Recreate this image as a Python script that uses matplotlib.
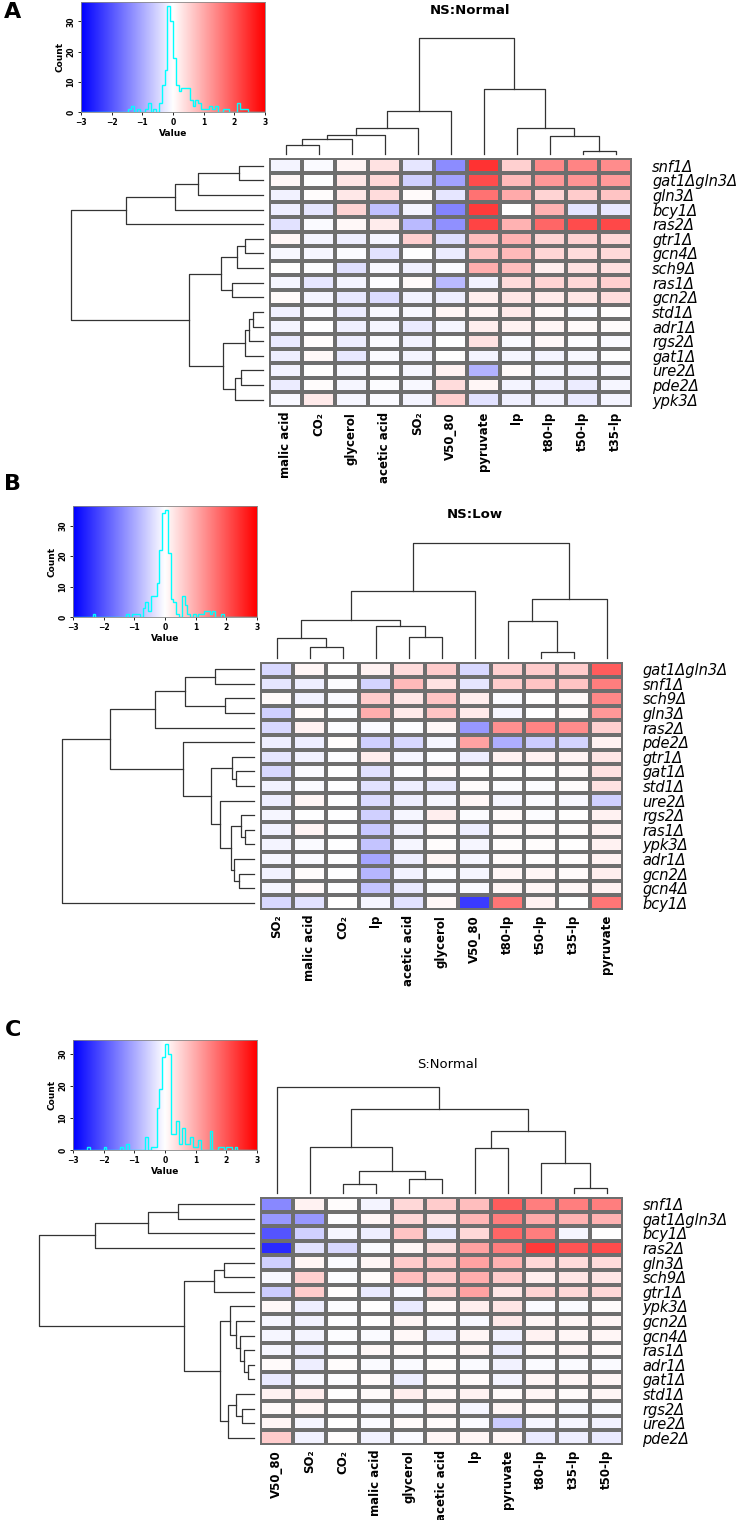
import numpy as np
import matplotlib.pyplot as plt
from matplotlib.colors import LinearSegmentedColormap
from matplotlib.ticker import MaxNLocator

plt.rcParams['font.family'] = ['DejaVu Sans']

# ---------------- panel A : NS:Normal ----------------
a_cols = ['malic acid', 'CO₂', 'glycerol', 'acetic acid', 'SO₂', 'V50_80',
          'pyruvate', 'lp', 't80-lp', 't50-lp', 't35-lp']
a_rows = ['snf1Δ', 'gat1Δgln3Δ', 'gln3Δ', 'bcy1Δ', 'ras2Δ', 'gtr1Δ', 'gcn4Δ', 'sch9Δ',
          'ras1Δ', 'gcn2Δ', 'std1Δ', 'adr1Δ', 'rgs2Δ', 'gat1Δ', 'ure2Δ', 'pde2Δ', 'ypk3Δ']
a_vals = [
    [-0.14, -0.06, 0.12, 0.35, -0.30, -1.35, 2.40, 0.55, 1.40, 1.44, 1.35],
    [0.10, -0.02, 0.30, 0.45, -0.55, -1.10, 2.10, 0.80, 1.20, 1.25, 1.18],
    [-0.16, 0.03, 0.28, 0.40, 0.05, -0.30, 1.65, 1.00, 0.50, 0.60, 0.70],
    [-0.19, -0.30, 0.50, -0.75, -0.12, -1.45, 2.30, 0.02, 0.90, -0.32, -0.26],
    [-0.33, -0.07, 0.08, 0.22, -0.80, -1.30, 2.20, 0.90, 1.80, 2.10, 2.14],
    [0.10, -0.12, -0.21, -0.13, 0.55, -0.38, 0.75, 0.90, 0.50, 0.52, 0.46],
    [-0.08, -0.11, -0.07, -0.34, -0.01, -0.22, 0.72, 0.80, 0.47, 0.42, 0.44],
    [0.02, -0.04, -0.37, -0.09, -0.17, -0.06, 0.95, 0.75, 0.20, 0.33, 0.36],
    [-0.10, -0.29, -0.13, -0.03, 0.06, -0.80, -0.15, 0.40, 0.50, 0.45, 0.54],
    [0.06, -0.14, -0.28, -0.42, -0.16, -0.19, 0.20, 0.30, 0.24, 0.30, 0.38],
    [-0.17, -0.05, -0.23, -0.08, -0.09, 0.10, 0.13, 0.25, 0.09, -0.05, 0.01],
    [-0.13, -0.02, -0.18, -0.11, -0.25, -0.10, 0.19, 0.15, 0.11, 0.06, 0.04],
    [-0.24, 0.03, -0.21, -0.05, -0.15, -0.02, 0.35, -0.07, 0.08, -0.04, -0.06],
    [-0.20, 0.08, -0.27, -0.06, -0.13, 0.00, -0.12, -0.10, -0.12, -0.08, -0.02],
    [-0.15, 0.01, -0.08, -0.03, -0.10, 0.15, -0.90, 0.05, -0.10, -0.14, -0.09],
    [-0.22, 0.03, -0.11, -0.04, -0.08, 0.40, 0.10, -0.12, -0.18, -0.22, -0.10],
    [-0.08, 0.25, -0.10, -0.05, -0.12, 0.55, -0.35, -0.17, -0.16, -0.24, -0.12],
]
# merges: (left, right, height); ids >= n refer to earlier merges
a_col_tree = [(0, 1, 9), (11, 2, 15), (12, 3, 19), (13, 4, 26), (14, 5, 43),
              (9, 10, 3), (8, 16, 18), (7, 17, 26), (6, 18, 65), (15, 19, 116)]
a_row_tree = [(0, 1, 24), (17, 2, 65), (18, 3, 88), (19, 4, 137),
              (5, 6, 18), (21, 7, 26), (8, 9, 31), (22, 23, 42),
              (10, 11, 10), (25, 12, 14), (26, 13, 18), (14, 15, 22), (28, 16, 28),
              (27, 29, 40), (24, 30, 74), (20, 31, 192)]

# ---------------- panel B : NS:Low ----------------
b_cols = ['SO₂', 'malic acid', 'CO₂', 'lp', 'acetic acid', 'glycerol', 'V50_80',
          't80-lp', 't50-lp', 't35-lp', 'pyruvate']
b_rows = ['gat1Δgln3Δ', 'snf1Δ', 'sch9Δ', 'gln3Δ', 'ras2Δ', 'pde2Δ', 'gtr1Δ', 'gat1Δ',
          'std1Δ', 'ure2Δ', 'rgs2Δ', 'ras1Δ', 'ypk3Δ', 'adr1Δ', 'gcn2Δ', 'gcn4Δ', 'bcy1Δ']
b_vals = [
    [-0.45, 0.10, 0.00, 0.15, 0.40, 0.60, -0.45, 0.55, 0.60, 0.60, 1.90],
    [-0.30, -0.20, -0.03, -0.50, 0.80, 0.35, -0.30, 0.60, 0.70, 0.70, 1.50],
    [0.05, -0.15, -0.05, 0.60, 0.30, 0.70, 0.20, -0.05, 0.00, 0.05, 1.40],
    [-0.55, 0.05, -0.03, 0.95, 0.25, 0.70, 0.25, -0.10, -0.02, 0.06, 1.20],
    [-0.45, 0.15, -0.03, -0.05, -0.03, 0.08, -1.20, 1.30, 1.45, 1.35, 0.55],
    [-0.20, -0.20, 0.03, -0.55, -0.45, -0.10, 1.10, -0.95, -0.60, -0.50, 0.15],
    [-0.30, -0.15, -0.03, 0.20, -0.10, -0.03, -0.20, 0.15, 0.16, 0.14, 0.30],
    [-0.45, -0.05, -0.02, -0.35, -0.03, 0.05, 0.00, 0.01, 0.00, 0.05, 0.35],
    [-0.15, -0.05, -0.02, -0.35, -0.20, -0.25, 0.03, -0.03, -0.03, 0.03, 0.35],
    [-0.20, 0.10, -0.02, -0.40, -0.20, -0.10, 0.10, -0.10, -0.05, -0.08, -0.55],
    [-0.10, -0.02, -0.01, -0.55, -0.10, 0.20, -0.03, 0.05, -0.03, 0.00, 0.15],
    [-0.15, 0.12, -0.02, -0.65, -0.15, 0.05, -0.20, 0.05, 0.05, 0.04, 0.15],
    [-0.12, -0.05, -0.02, -0.70, -0.10, 0.03, -0.10, 0.03, 0.03, 0.02, 0.15],
    [-0.10, -0.05, -0.02, -1.05, -0.20, 0.10, -0.10, 0.05, 0.04, 0.03, 0.15],
    [-0.15, 0.03, -0.02, -0.85, -0.15, -0.05, -0.10, 0.10, 0.10, 0.05, 0.20],
    [-0.10, 0.05, -0.02, -0.70, -0.25, -0.05, -0.05, 0.10, 0.10, 0.08, 0.15],
    [-0.45, -0.35, 0.00, -0.10, -0.35, 0.08, -2.30, 1.60, 0.15, 0.00, 1.60],
]
b_col_tree = [(1, 2, 10.7), (0, 11, 20), (4, 5, 21.3), (3, 13, 32.3), (12, 14, 37.7),
              (15, 6, 67), (8, 9, 6), (7, 17, 36.7), (18, 10, 59.3), (16, 19, 115.3)]
b_row_tree = [(0, 1, 39), (2, 3, 28.6), (17, 18, 69), (19, 4, 98.8),
              (7, 8, 18.4), (6, 21, 22.4), (11, 12, 9), (10, 23, 13),
              (14, 15, 15), (13, 25, 20), (24, 26, 23.3), (9, 27, 33.9),
              (22, 28, 42.9), (5, 29, 71.4), (20, 30, 143.7), (31, 16, 192)]

# ---------------- panel C : S:Normal ----------------
c_cols = ['V50_80', 'SO₂', 'CO₂', 'malic acid', 'glycerol', 'acetic acid', 'lp',
          'pyruvate', 't80-lp', 't35-lp', 't50-lp']
c_rows = ['snf1Δ', 'gat1Δgln3Δ', 'bcy1Δ', 'ras2Δ', 'gln3Δ', 'sch9Δ', 'gtr1Δ', 'ypk3Δ',
          'gcn2Δ', 'gcn4Δ', 'ras1Δ', 'adr1Δ', 'gat1Δ', 'std1Δ', 'rgs2Δ', 'ure2Δ', 'pde2Δ']
c_vals = [
    [-1.40, 0.15, 0.03, -0.12, 0.45, 0.60, 0.75, 1.90, 1.50, 1.50, 1.50],
    [-1.20, -1.20, -0.03, 0.10, 0.45, 0.35, 0.85, 1.50, 1.00, 0.90, 0.90],
    [-2.00, -0.55, -0.10, -0.20, 0.70, -0.25, 0.45, 1.80, 1.50, -0.10, 0.00],
    [-2.50, -0.35, -0.45, -0.05, 0.10, 0.40, 1.10, 1.50, 2.30, 2.00, 2.10],
    [-0.55, 0.10, -0.05, 0.10, 0.60, 0.65, 1.10, 0.90, 0.45, 0.40, 0.40],
    [-0.08, 0.55, -0.03, 0.05, 0.75, 0.60, 0.95, 0.60, 0.20, 0.30, 0.30],
    [-0.60, 0.60, 0.03, -0.25, -0.08, 0.50, 1.10, 0.30, 0.50, 0.45, 0.45],
    [0.08, -0.20, -0.03, 0.00, -0.25, 0.08, 0.20, 0.30, -0.05, -0.05, 0.03],
    [-0.10, -0.15, -0.03, 0.00, 0.10, 0.03, -0.08, 0.25, 0.10, 0.10, 0.10],
    [-0.10, -0.12, -0.03, -0.05, 0.08, -0.15, 0.10, -0.15, 0.15, 0.10, 0.10],
    [-0.10, -0.20, -0.03, 0.08, 0.05, 0.03, 0.10, -0.20, 0.05, 0.10, 0.05],
    [0.05, -0.20, 0.03, -0.05, -0.05, 0.03, -0.05, -0.15, -0.05, -0.05, -0.05],
    [-0.25, -0.08, -0.03, 0.05, -0.20, 0.05, 0.05, -0.12, 0.10, 0.10, 0.10],
    [0.15, 0.20, 0.01, 0.05, 0.20, 0.10, 0.15, 0.05, 0.10, 0.05, 0.10],
    [0.05, 0.10, 0.01, -0.05, -0.05, 0.10, -0.10, 0.10, 0.05, -0.05, -0.05],
    [0.10, -0.10, 0.01, -0.05, 0.05, 0.05, -0.05, -0.60, -0.10, -0.10, -0.15],
    [0.60, -0.15, 0.03, -0.15, -0.05, 0.10, 0.10, 0.10, -0.25, -0.20, -0.25],
]
c_col_tree = [(2, 3, 9), (4, 5, 14), (11, 12, 22), (1, 13, 46), (6, 7, 45),
              (9, 10, 5), (8, 16, 30), (15, 17, 62), (14, 18, 84), (0, 19, 106)]
c_row_tree = [(0, 1, 76), (17, 2, 106), (18, 3, 159),
              (4, 5, 30), (20, 6, 40), (11, 12, 6), (10, 22, 10), (9, 23, 14),
              (8, 24, 18), (7, 25, 24), (14, 15, 12), (13, 27, 18), (28, 16, 26),
              (26, 29, 34), (21, 30, 70), (19, 31, 215)]

# ---------------- drawing ----------------
W, H = 738, 1520
fig = plt.figure(figsize=(W / 100, H / 100), dpi=100)
cmap = LinearSegmentedColormap.from_list('bluered', ['#0000ff', '#ffffff', '#ff0000'])


def box(x0, y0, x1, y1):
    return [x0 / W, 1 - y1 / H, (x1 - x0) / W, (y1 - y0) / H]


def dendro(ax, tree, n, side):
    pos = {i: i + 0.5 for i in range(n)}
    hgt = {i: 0.0 for i in range(n)}
    for k, (a, b, h) in enumerate(tree):
        p = [pos[a], pos[a], pos[b], pos[b]]
        q = [hgt[a], h, h, hgt[b]]
        if side == 'top':
            ax.plot(p, q, color='#333333', lw=0.9, clip_on=False)
        else:
            ax.plot(q, p, color='#333333', lw=0.9, clip_on=False)
        pos[n + k] = (pos[a] + pos[b]) / 2
        hgt[n + k] = h
    ax.axis('off')


def panel(vals, rows, cols, col_tree, row_tree, heat, key, title, letter, lab_pad):
    x0, y0, x1, y1 = heat
    nr, nc = len(rows), len(cols)
    ax = fig.add_axes(box(*heat))
    ax.pcolormesh(np.array(vals), cmap=cmap, vmin=-3, vmax=3,
                  edgecolors='#6e6e6e', linewidth=1.5)
    ax.set_xlim(0, nc)
    ax.set_ylim(nr, 0)
    for s in ax.spines.values():
        s.set_visible(False)
    ax.set_yticks(np.arange(nr) + 0.5)
    ax.set_yticklabels(rows, fontstyle='italic', fontsize=10.5)
    ax.tick_params(axis='y', left=False, labelleft=False, right=False,
                   labelright=True, pad=lab_pad)
    ax.set_xticks(np.arange(nc) + 0.5)
    ax.set_xticklabels(cols, rotation=90, fontweight='bold', fontsize=8.5)
    ax.tick_params(axis='x', length=0, pad=3.5)

    ch = max(t[2] for t in col_tree)
    axc = fig.add_axes(box(x0, y0 - 4 - ch, x1, y0 - 4))
    dendro(axc, col_tree, nc, 'top')
    axc.set_xlim(0, nc)
    axc.set_ylim(0, ch)

    rh = max(t[2] for t in row_tree)
    axr = fig.add_axes(box(x0 - 6 - rh, y0, x0 - 6, y1))
    dendro(axr, row_tree, nr, 'left')
    axr.set_xlim(rh, 0)
    axr.set_ylim(nr, 0)

    axk = fig.add_axes(box(*key))
    counts, edges = np.histogram(np.ravel(vals), bins=np.linspace(-3, 3, 67))
    top = counts.max() * 1.04
    axk.imshow(np.linspace(-3, 3, 256)[None, :], extent=[-3, 3, 0, top],
               aspect='auto', cmap=cmap, vmin=-3, vmax=3)
    axk.stairs(counts, edges, color='cyan', lw=1)
    axk.set_xlim(-3, 3)
    axk.set_ylim(0, top)
    axk.set_xticks(range(-3, 4))
    axk.yaxis.set_major_locator(MaxNLocator(nbins=4, integer=True, steps=[1, 2, 5, 10]))
    axk.tick_params(labelsize=5.5, length=2.5, width=0.6, pad=1.5)
    for t in axk.get_xticklabels() + axk.get_yticklabels():
        t.set_fontweight('bold')
    for t in axk.get_yticklabels():
        t.set_rotation(90)
        t.set_va('center')
    axk.set_xlabel('Value', fontsize=6.5, fontweight='bold', labelpad=1.5)
    axk.set_ylabel('Count', fontsize=6.5, fontweight='bold', labelpad=1.5)
    for s in axk.spines.values():
        s.set_color('#888888')
        s.set_linewidth(0.6)

    fig.text(title[0] / W, 1 - title[1] / H, title[2], ha='center', va='center',
             fontsize=9.5, fontweight=title[3])
    fig.text(letter[0] / W, 1 - letter[1] / H, letter[2], ha='center', va='center',
             fontsize=16, fontweight='bold')


panel(a_vals, a_rows, a_cols, a_col_tree, a_row_tree,
      (269, 158.4, 632, 407), (81, 2, 265, 112),
      (470, 10, 'NS:Normal', 'bold'), (13, 12, 'A'), 11)
panel(b_vals, b_rows, b_cols, b_col_tree, b_row_tree,
      (260, 662, 623, 910), (73, 506, 257, 617),
      (475, 514, 'NS:Low', 'bold'), (13, 484, 'B'), 10.5)
panel(c_vals, c_rows, c_cols, c_col_tree, c_row_tree,
      (260, 1197, 623, 1445), (73, 1040, 257, 1150),
      (447, 1065, 'S:Normal', 'normal'), (13, 1030, 'C'), 10.5)

fig.savefig('out.png', dpi=100)
